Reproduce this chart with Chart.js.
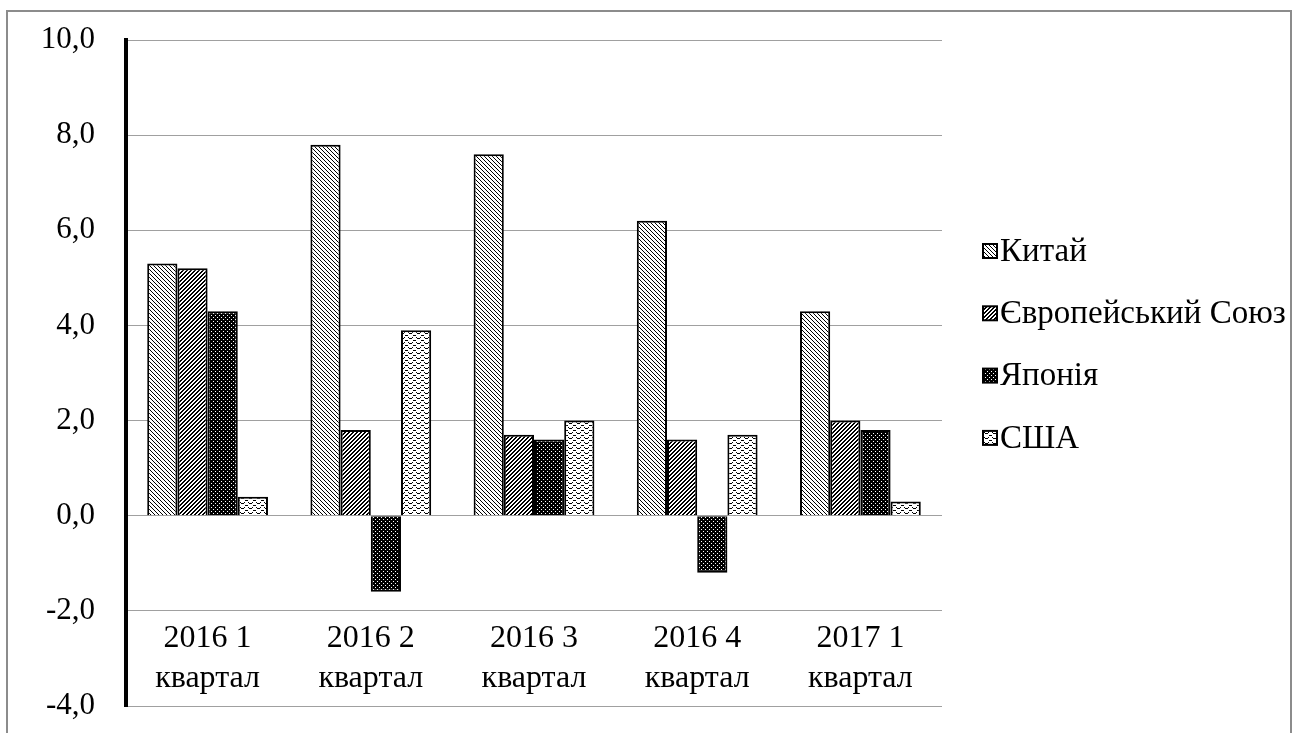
<!DOCTYPE html>
<html>
<head>
<meta charset="utf-8">
<script src="https://cdn.jsdelivr.net/npm/chart.js@4/dist/chart.umd.min.js"></script>
<style>
  html, body { margin: 0; padding: 0; background: #fff; }
  #wrap { position: relative; width: 1296px; height: 733px; overflow: hidden; }
  #frame { position: absolute; left: 6px; top: 10px; width: 1282px; height: 760px; border: 2px solid #8c8c8c; }
  canvas { position: absolute; left: 0; top: 0; }
</style>
</head>
<body>
<div id="wrap">
  <div id="frame"></div>
  <canvas id="chart" width="1296" height="733"></canvas>
</div>
<script>
// quarters on the x axis (two lines each)
const categories = [
    ["2016 1", "квартал"],
    ["2016 2", "квартал"],
    ["2016 3", "квартал"],
    ["2016 4", "квартал"],
    ["2017 1", "квартал"]
];

const seriesNames = ["Китай", "Європейський Союз", "Японія", "США"];

const china = [5.3, 7.8, 7.6, 6.2, 4.3];
const eu = [5.2, 1.8, 1.7, 1.6, 2.0];
const japan = [4.3, -1.6, 1.6, -1.2, 1.8];
const usa = [0.4, 3.9, 2.0, 1.7, 0.3];

const yTicks = [-4, -2, 0, 2, 4, 6, 8, 10];

const FONT = "'Liberation Serif', 'Times New Roman', serif";
const FONT_SIZE = 32;

// small hatch tiles, like the Excel pattern fills
function makePattern(kind) {
    const c = document.createElement('canvas');
    const g = c.getContext('2d');
    let w = 8, h = 8;
    if (kind === 'wave') h = 5;
    c.width = w; c.height = h;
    g.fillStyle = kind === 'dots' ? '#000' : '#fff';
    g.fillRect(0, 0, w, h);
    for (let x = 0; x < w; x++) {
        for (let y = 0; y < h; y++) {
            let on = false;
            if (kind === 'back') on = ((x - y + 16) % 4) === 0;
            if (kind === 'fwd') on = ((x + y) % 4) < 2;
            if (kind === 'dots') on = (x % 4 === 1 && y % 4 === 1) || (x % 4 === 3 && y % 4 === 3);
            if (on) {
                g.fillStyle = kind === 'dots' ? '#fff' : '#000';
                g.fillRect(x, y, 1, 1);
            }
        }
    }
    if (kind === 'wave') {
        g.fillStyle = '#000';
        for (let x = 0; x < w; x++) {
            const y = Math.round(1.5 + 1.5 * Math.sin(2 * Math.PI * x / 8));
            g.fillRect(x, y, 1, 1);
        }
    }
    return g.createPattern(c, 'repeat');
}

const patterns = [makePattern('back'), makePattern('fwd'), makePattern('dots'), makePattern('wave')];
const values = [china, eu, japan, usa];

const datasets = values.map((v, i) => ({
    label: seriesNames[i],
    data: v,
    backgroundColor: patterns[i],
    borderColor: '#000',
    borderWidth: 2,
    categoryPercentage: 0.74,
    barPercentage: 1.0
}));

// legend drawn on the right, Excel style
const sideLegend = {
    id: 'sideLegend',
    afterDraw(chart) {
        const ctx = chart.ctx;
        ctx.save();
        ctx.font = (FONT_SIZE + 1) + 'px ' + FONT;
        ctx.textBaseline = 'middle';
        chart.data.datasets.forEach((ds, i) => {
            const y = 251 + i * 62.3;
            ctx.fillStyle = ds.backgroundColor;
            ctx.fillRect(983, y - 7, 14, 14);
            ctx.strokeStyle = '#000';
            ctx.lineWidth = 2;
            ctx.strokeRect(983, y - 7, 14, 14);
            ctx.fillStyle = '#000';
            ctx.fillText(ds.label, 1000, y + 1);
        });
        ctx.restore();
    }
};

function noPad(scale) {
    scale.paddingTop = 0;
    scale.paddingBottom = 0;
    scale.paddingLeft = 0;
    scale.paddingRight = 0;
}

new Chart(document.getElementById('chart'), {
    type: 'bar',
    data: { labels: categories, datasets: datasets },
    options: {
        responsive: false,
        animation: false,
        layout: { padding: { left: 0, right: 354, top: 40, bottom: 27 } },
        plugins: { legend: { display: false }, tooltip: { enabled: false } },
        scales: {
            x: {
                position: { y: -2 },
                afterFit(scale) { noPad(scale); },
                grid: { display: false, drawTicks: false },
                border: { display: false },
                ticks: {
                    color: '#000',
                    padding: 8,
                    maxRotation: 0,
                    autoSkip: false,
                    font: { family: FONT, size: FONT_SIZE, lineHeight: 1.25 }
                }
            },
            y: {
                min: -4,
                max: 10,
                afterFit(scale) { scale.width = 126; noPad(scale); },
                afterBuildTicks(scale) { scale.ticks = yTicks.map(v => ({ value: v })); },
                grid: { color: '#a0a0a0', lineWidth: 1, drawTicks: false },
                border: { color: '#000', width: 4 },
                ticks: {
                    color: '#000',
                    padding: 31,
                    font: { family: FONT, size: FONT_SIZE - 1 },
                    callback: v => v.toFixed(1).replace('.', ',')
                }
            }
        }
    },
    plugins: [sideLegend]
});
</script>
</body>
</html>
